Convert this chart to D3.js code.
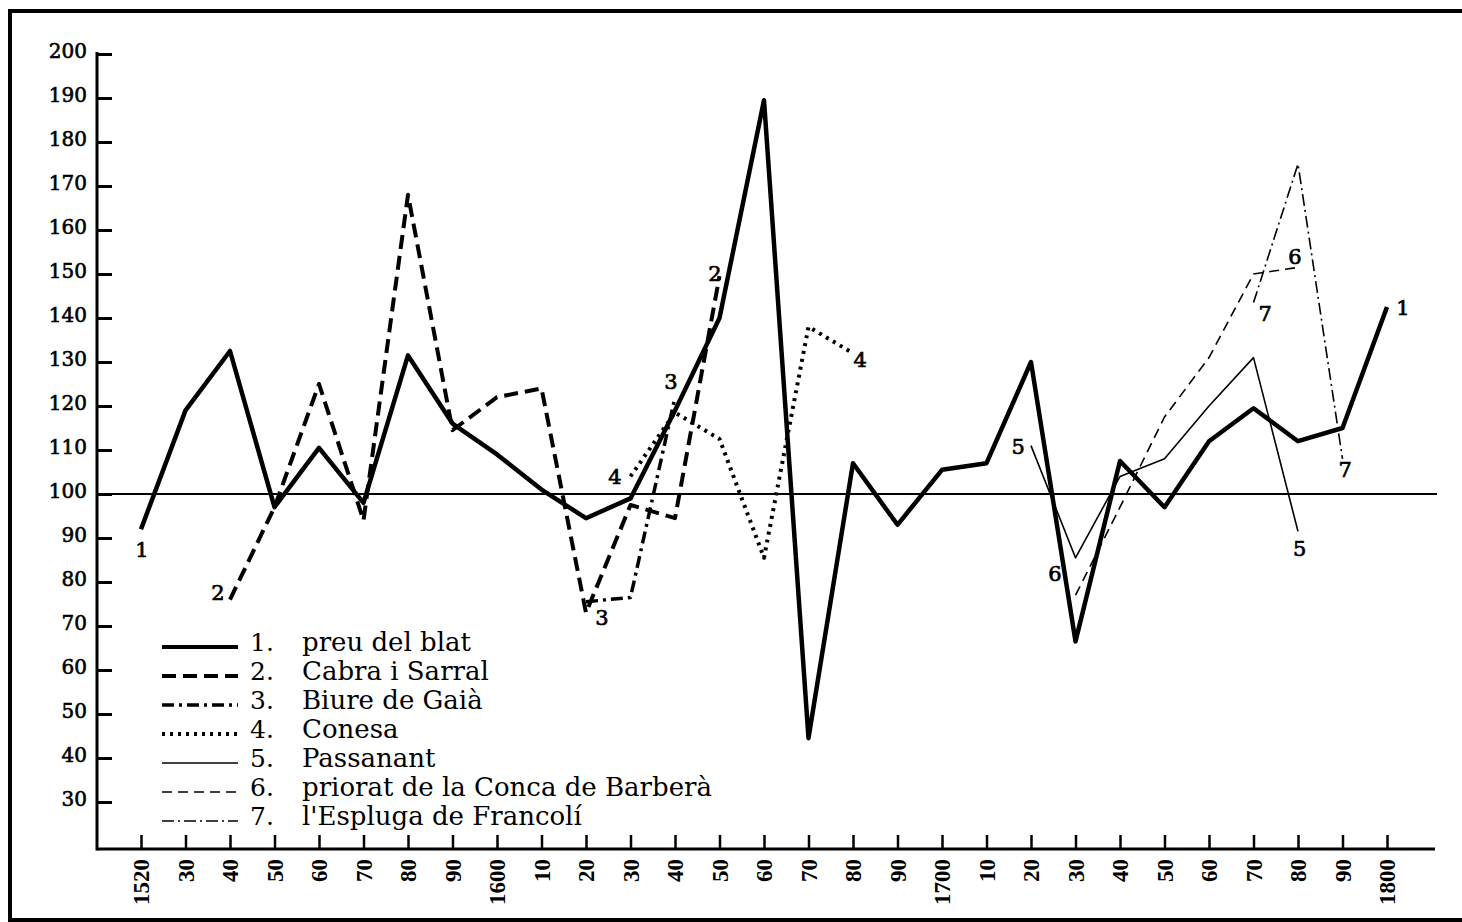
<!DOCTYPE html>
<html>
<head>
<meta charset="utf-8">
<script src="https://cdn.jsdelivr.net/npm/d3@7"></script>
<style>
  body { margin: 0; background: #fff; }
  svg { display: block; }
</style>
</head>
<body>
<div id="root"></div>
<script>
// x axis ticks and their labels
const tickYears = [1520,1530,1540,1550,1560,1570,1580,1590,1600,1610,1620,1630,1640,1650,1660,1670,1680,1690,1700,1710,1720,1730,1740,1750,1760,1770,1780,1790,1800]
const tickLabels = ["1520","30","40","50","60","70","80","90","1600","10","20","30","40","50","60","70","80","90","1700","10","20","30","40","50","60","70","80","90","1800"]
const yTicks = [30,40,50,60,70,80,90,100,110,120,130,140,150,160,170,180,190,200]

// series, [year, index]
const blat = [[1520,92],[1530,119],[1540,132.5],[1550,97],[1560,110.5],[1570,98],[1580,131.5],[1590,116],[1600,109],[1610,101],[1620,94.5],[1630,99],[1640,119],[1650,140],[1660,189.5],[1670,44.5],[1680,107],[1690,93],[1700,105.5],[1710,107],[1720,130],[1730,66.5],[1740,107.5],[1750,97],[1760,112],[1770,119.5],[1780,112],[1790,115],[1800,142.5]]
const cabra = [[1540,76],[1550,97],[1560,125],[1570,94],[1580,168],[1590,114.5],[1600,122],[1610,124],[1620,73],[1630,97.5],[1640,94.5],[1650,149.5]]
const biure = [[1620,75.5],[1630,76.5],[1640,122]]
const conesa = [[1630,104],[1640,118.5],[1650,112.5],[1660,85.5],[1670,138],[1680,132]]
const passanant = [[1720,111],[1730,85.5],[1740,104],[1750,108],[1760,120],[1770,131],[1780,91.5]]
const priorat = [[1730,77],[1740,97],[1750,117.5],[1760,131],[1770,150],[1780,151.5]]
const espluga = [[1770,143.5],[1780,175],[1790,108]]

const legendNames = ["preu del blat","Cabra i Sarral","Biure de Gaià","Conesa","Passanant","priorat de la Conca de Barberà","l'Espluga de Francolí"]

// number tags written next to the lines: [tag, year, index]
const tags = [["1",1520.2,87.3],["1",1803.6,142.3],["2",1537.3,77.7],["2",1649,150.2],["3",1623.6,72],["3",1639.1,125.5],["4",1626.5,103.9],["4",1681.6,130.5],["5",1717.1,110.7],["5",1780.4,87.7],["6",1725.4,82],["6",1779.3,153.9],["7",1772.6,141.1],["7",1790.6,105.5]]

class Chart {
    constructor() {
        this.width = 1462
        this.height = 922
        this.svg = d3.select("#root").append("svg")
            .attr("width", this.width)
            .attr("height", this.height)
        this.x = d3.scaleLinear().domain([1520, 1800]).range([141, 1387])
        this.y = d3.scaleLinear().domain([100, 200]).range([494, 54])
        this.axisX0 = 97
        this.axisY0 = 849
        this.serif = "'DejaVu Serif', serif"
        this.styles = [
            { w: 4.5, dash: null },
            { w: 4, dash: "14,7" },
            { w: 3.5, dash: "12,5,3,5" },
            { w: 4, dash: "3,5" },
            { w: 1.6, dash: null },
            { w: 1.6, dash: "10,6" },
            { w: 1.6, dash: "12,4,2,4" }
        ]
    }

    draw() {
        this.drawFrame()
        this.drawAxes()
        this.drawSeries()
        this.drawTags()
        this.drawLegend()
    }

    drawFrame() {
        const g = this.svg.append("g").attr("stroke", "#000").attr("stroke-width", 4)
        g.append("line").attr("x1", 10).attr("x2", this.width).attr("y1", 11).attr("y2", 11)
        g.append("line").attr("x1", 10).attr("x2", 10).attr("y1", 9).attr("y2", 920)
        g.append("line").attr("x1", 8).attr("x2", this.width).attr("y1", 920).attr("y2", 920)
    }

    drawAxes() {
        let that = this
        // y axis, ticks point inward
        const yAxis = d3.axisRight(this.y).tickValues(yTicks).tickSize(15).tickFormat("")
        const gy = this.svg.append("g").attr("transform", `translate(${this.axisX0},0)`).call(yAxis)
        gy.select(".domain").remove()
        gy.selectAll(".tick line").attr("stroke", "#000").attr("stroke-width", 3)
        this.svg.append("line")
            .attr("x1", this.axisX0).attr("x2", this.axisX0)
            .attr("y1", this.y(200) - 2).attr("y2", this.axisY0 + 1.5)
            .attr("stroke", "#000").attr("stroke-width", 3)
        this.svg.append("g").selectAll("text").data(yTicks).join("text")
            .attr("x", 87)
            .attr("y", d => that.y(d) - 3)
            .attr("dy", "0.35em")
            .attr("text-anchor", "end")
            .attr("font-family", this.serif)
            .attr("font-size", 20)
            .attr("stroke", "#000")
            .attr("stroke-width", 0.6)
            .text(d => d)

        // x axis, ticks point up
        const xAxis = d3.axisTop(this.x).tickValues(tickYears).tickSize(14).tickFormat("")
        const gx = this.svg.append("g").attr("transform", `translate(0,${this.axisY0})`).call(xAxis)
        gx.select(".domain").remove()
        gx.selectAll(".tick line").attr("stroke", "#000").attr("stroke-width", 2.5)
        this.svg.append("line")
            .attr("x1", this.axisX0).attr("x2", 1435)
            .attr("y1", this.axisY0).attr("y2", this.axisY0)
            .attr("stroke", "#000").attr("stroke-width", 3)
        this.svg.append("g").selectAll("text").data(tickYears).join("text")
            .attr("transform", d => `translate(${that.x(d)},859) rotate(-90)`)
            .attr("dy", "0.35em")
            .attr("text-anchor", "end")
            .attr("font-family", "'Liberation Serif', serif")
            .attr("font-weight", "bold")
            .attr("font-size", 23)
            .text((d, i) => tickLabels[i])

        // reference line at 100
        this.svg.append("line")
            .attr("x1", this.axisX0).attr("x2", 1437)
            .attr("y1", this.y(100)).attr("y2", this.y(100))
            .attr("stroke", "#000").attr("stroke-width", 2.2)
    }

    drawSeries() {
        let that = this
        const line = d3.line().x(d => that.x(d[0])).y(d => that.y(d[1]))
        const all = [blat, cabra, biure, conesa, passanant, priorat, espluga]
        // draw thin ones first so the heavy price line sits on top
        const order = [4, 5, 6, 3, 2, 1, 0]
        order.forEach(i => {
            const s = that.styles[i]
            that.svg.append("path")
                .datum(all[i])
                .attr("d", line)
                .attr("fill", "none")
                .attr("stroke", "#000")
                .attr("stroke-width", s.w)
                .attr("stroke-linejoin", "round")
                .attr("stroke-dasharray", s.dash)
        })
    }

    drawTags() {
        let that = this
        this.svg.append("g").selectAll("text").data(tags).join("text")
            .attr("x", d => that.x(d[1]))
            .attr("y", d => that.y(d[2]))
            .attr("dy", "0.36em")
            .attr("text-anchor", "middle")
            .attr("font-family", this.serif)
            .attr("font-size", 21)
            .attr("stroke", "#000")
            .attr("stroke-width", 0.7)
            .text(d => d[0])
    }

    drawLegend() {
        let that = this
        const g = this.svg.append("g")
        legendNames.forEach((name, i) => {
            const yy = 647 + i * 29
            const s = that.styles[i]
            g.append("line")
                .attr("x1", 162).attr("x2", 238)
                .attr("y1", yy).attr("y2", yy)
                .attr("stroke", "#000")
                .attr("stroke-width", Math.min(s.w, 4))
                .attr("stroke-dasharray", s.dash)
            g.append("text")
                .attr("x", 250).attr("y", yy + 4)
                .attr("font-family", that.serif)
                .attr("font-size", 25)
                .text((i + 1) + ".")
            g.append("text")
                .attr("x", 302).attr("y", yy + 4)
                .attr("font-family", that.serif)
                .attr("font-size", 26)
                .attr("textLength", null)
                .text(name)
        })
    }
}

const chart = new Chart()
chart.draw()
</script>
</body>
</html>
